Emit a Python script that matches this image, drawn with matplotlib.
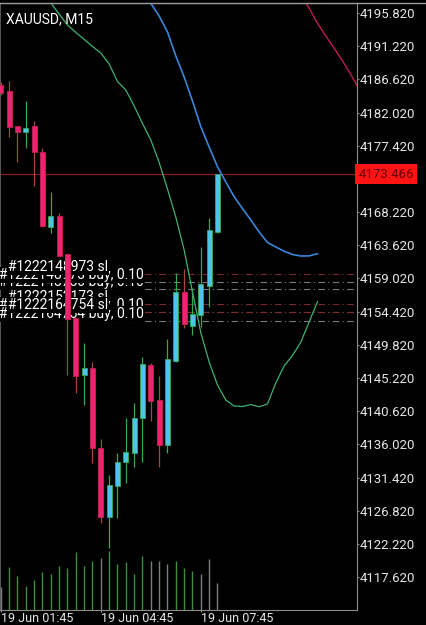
import matplotlib.pyplot as plt
import matplotlib.transforms as mtransforms
from matplotlib.lines import Line2D
import numpy as np

plt.rcParams['font.family'] = ['Roboto', 'DejaVu Sans']

# XAUUSD M15 candles, 19 Jun 01:45 .. 08:15
opens = [4185.84, 4185.05, 4180.15, 4179.36, 4180.19, 4176.51, 4166.19, 4167.67,
         4162.36, 4153.53, 4145.63, 4146.56, 4135.55, 4125.98, 4130.28, 4133.52,
         4134.85, 4139.63, 4147.02, 4142.16, 4135.92, 4147.61, 4157.18, 4152.42,
         4153.95, 4157.97, 4165.50]
highs = [4186.30, 4186.43, 4180.15, 4183.62, 4180.89, 4177.14, 4170.96, 4168.05,
         4162.40, 4153.60, 4150.02, 4147.47, 4136.75, 4131.76, 4134.77, 4139.71,
         4141.79, 4148.08, 4147.33, 4145.49, 4150.62, 4159.81, 4160.28, 4157.65,
         4163.42, 4167.36, 4173.47]
lows = [4184.40, 4178.63, 4175.16, 4177.06, 4171.88, 4166.20, 4165.28, 4162.10,
        4145.63, 4143.13, 4141.47, 4133.39, 4125.07, 4121.60, 4125.76, 4130.70,
        4132.91, 4133.61, 4139.29, 4132.83, 4134.85, 4147.43, 4152.10, 4151.17,
        4152.28, 4155.10, 4165.32]
closes = [4184.77, 4180.06, 4179.36, 4179.83, 4176.51, 4166.29, 4167.67, 4162.13,
          4153.39, 4145.49, 4146.64, 4135.55, 4125.98, 4130.38, 4133.61, 4134.91,
          4139.63, 4147.15, 4142.07, 4135.92, 4147.80, 4157.18, 4152.70, 4154.09,
          4158.25, 4165.73, 4173.466]
volumes = [2350, 4350, 3400, 2400, 3000, 3800, 3600, 4450, 4200, 5800, 4400, 4900,
           5250, 5950, 4600, 4800, 3600, 5450, 4950, 4950, 4600, 4950, 4200, 3900,
           3600, 5100, 2750]
volume_kind = ['n', 'g', 'g', 'g', 'g', 'g', 'g', 'g', 'g', 'g', 'g', 'g',
               'n', 'g', 'g', 'g', 'g', 'g', 'n', 'n', 'n', 'g', 'g', 'g',
               'n', 'n', 'n']

# shifted moving averages (start index, values)
green_start = 6
green_ma = [4197.21, 4195.68, 4194.16, 4193.14, 4192.16, 4191.19, 4190.27, 4188.75,
            4186.32, 4185.14, 4182.94, 4180.51, 4178.21, 4175.09, 4171.40, 4167.53,
            4162.96, 4157.14, 4151.48, 4147.43, 4144.24, 4142.16, 4141.33, 4141.26,
            4141.54, 4141.23, 4141.61, 4144.55, 4146.89, 4148.35, 4150.18, 4153.00,
            4155.80]
blue_start = 18
blue_ma = [4197.17, 4195.40, 4193.19, 4189.86, 4186.95, 4183.62, 4180.06, 4177.24,
           4174.51, 4172.39, 4170.35, 4168.71, 4167.12, 4165.46, 4164.00, 4163.38,
           4162.79, 4162.34, 4162.13, 4162.15, 4162.45]
red_start = 36
red_ma = [4198.32, 4196.51, 4194.39, 4192.63, 4190.93, 4189.19, 4187.29, 4185.28]

# open orders on chart
order_tickets = ['1222148750', '1222148973', '1222148973', '1222152173',
                 '1222152173', '1222164754', '1222164754']
order_kinds = ['buy', 'buy', 'sl', 'sl', 'buy', 'buy', 'sl']
order_prices = [4157.51, 4158.56, 4159.63, 4155.47, 4154.40, 4153.12, 4154.32]

current_price = 4173.466
price_ticks = 4195.82 - 4.6 * np.arange(18)
time_ticks = [0, 12, 24]
time_labels = ['19 Jun 01:45', '19 Jun 04:45', '19 Jun 07:45']

W, H = 426, 625
fig = plt.figure(figsize=(W / 100, H / 100), dpi=100, facecolor='black')
ax = fig.add_axes([0, 15 / H, 357 / W, 607 / H])
ax.set_facecolor('black')

# volumes in their own scale
vax = ax.twinx()
vax.set_ylim(0, 60700)
vcol = {'g': '#3f8f3f', 'n': '#7c7c7c'}
idx = np.arange(len(volumes))
vax.vlines(idx, 0, volumes, colors=[vcol[k] for k in volume_kind], linewidth=1.0)
vax.set_yticks([])
for s in vax.spines.values():
    s.set_visible(False)

# moving averages
ax.plot(np.arange(green_start, green_start + len(green_ma)), green_ma,
        color='#3cb371', linewidth=0.9, zorder=3)
ax.plot(np.arange(blue_start, blue_start + len(blue_ma)), blue_ma,
        color='#3a86d8', linewidth=1.2, zorder=3)
ax.plot(np.arange(red_start, red_start + len(red_ma)), red_ma,
        color='#c2185b', linewidth=1.0, zorder=3)

# order lines and labels
for t, k, p in zip(order_tickets, order_kinds, order_prices):
    ax.axhline(p, color='#7a2a2a' if k == 'sl' else '#7a7a7a', linewidth=0.8,
               linestyle=(0, (6, 3, 1, 3)), zorder=1)
for t, k, p in zip(order_tickets, order_kinds, order_prices):
    txt = f'#{t} sl' if k == 'sl' else f'#{t} buy, 0.10'
    xo = 5.8 if k == 'sl' else -0.7
    ax.annotate(txt, xy=(0, p), xycoords=('axes fraction', 'data'),
                xytext=(xo, 5), textcoords='offset points', ha='left', va='center',
                color='white', fontsize=10, zorder=4,
                bbox=dict(boxstyle='square,pad=0.05', fc='black', ec='none'))

# current price line
ax.axhline(current_price, color='#8b1a1a', linewidth=0.9, zorder=2)

# candles
bull_fill, bull_edge = '#4fc3ea', '#35a853'
bear_fill, bear_edge = '#f0246e', '#a04a3a'
for i, (o, h, l, c) in enumerate(zip(opens, highs, lows, closes)):
    up = c >= o
    wick = bull_edge if up else bear_edge
    ax.vlines(i, l, h, color=wick, linewidth=0.9, zorder=5)
    ax.bar(i, abs(c - o), bottom=min(o, c), width=0.62,
           color=bull_fill if up else bear_fill,
           edgecolor=bull_edge if up else '#c81e5a', linewidth=0.6, zorder=6)

ax.set_xlim(-0.1, 357 / 8.333 - 0.1)
ax.set_ylim(4113.05, 4197.21)

ax.yaxis.tick_right()
ax.set_yticks(price_ticks, [f'{v:.3f}' for v in price_ticks])
ax.tick_params(axis='y', colors='#8c8c8c', labelcolor='#e6e6e6', labelsize=9.5,
               length=1.5, pad=0.3, width=0.8)
ax.set_xticks(time_ticks, time_labels)
for lbl in ax.get_xticklabels():
    lbl.set_ha('left')
ax.tick_params(axis='x', colors='#8c8c8c', labelcolor='#e6e6e6', labelsize=9,
               length=1.5, pad=0.3, width=0.8)
for name, s in ax.spines.items():
    s.set_color('#8c8c8c')
    s.set_linewidth(0.8)
ax.spines['left'].set_color('#555555')

# current price tag
tr = mtransforms.blended_transform_factory(ax.transAxes, ax.transData)
ax.text(1.004, current_price, f'{current_price:.3f}', transform=tr, ha='left',
        va='center', color='#6a0000', fontsize=9.5, zorder=10, clip_on=False,
        bbox=dict(boxstyle='square,pad=0.25', fc='#ff1414', ec='none'))

# top border and symbol title
fig.add_artist(Line2D([0, 1], [1 - 3 / H, 1 - 3 / H], transform=fig.transFigure,
                      color='#9a9a9a', linewidth=1.0))
ax.text(6 / 357, 1 - 16 / 607, 'XAUUSD, M15', transform=ax.transAxes, color='white',
        fontsize=10, ha='left', va='center', zorder=10)

fig.savefig('out.png', dpi=100, facecolor='black')
